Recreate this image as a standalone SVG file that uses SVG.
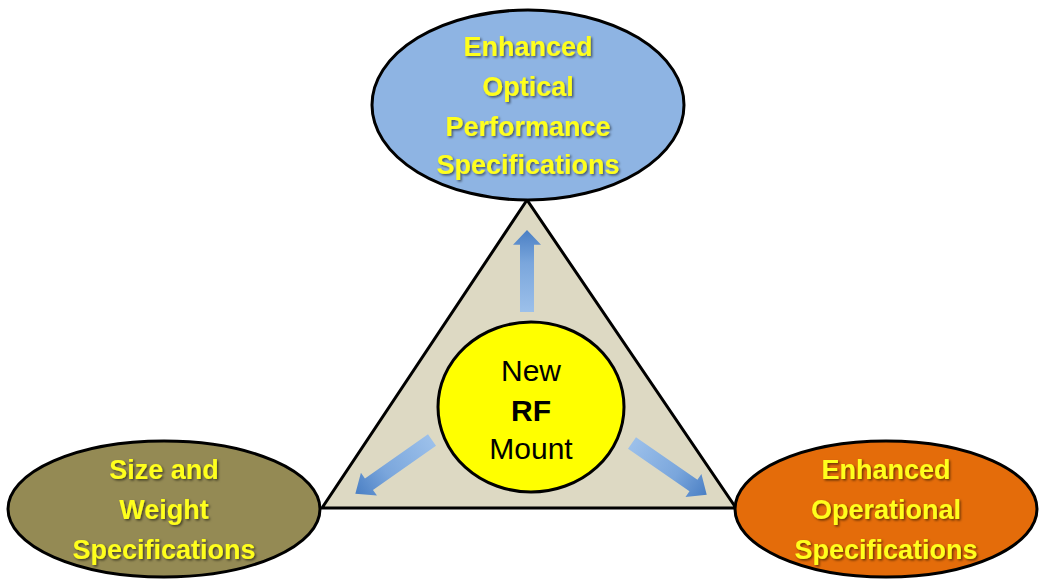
<svg xmlns="http://www.w3.org/2000/svg" width="1042" height="579" viewBox="0 0 1042 579">
  <defs>
    <filter id="tshadow" x="-10%" y="-30%" width="120%" height="160%">
      <feDropShadow dx="1.5" dy="1.5" stdDeviation="1" flood-color="#000" flood-opacity="0.55"/>
    </filter>
    <linearGradient id="arrowGrad" x1="0" y1="0" x2="1" y2="0">
      <stop offset="0" stop-color="#9cc0ea"/>
      <stop offset="0.6" stop-color="#7aa6dc"/>
      <stop offset="1" stop-color="#4a7fc4"/>
    </linearGradient>
    <path id="arrowShape" d="M0,-7 L74,-7 L74,-14 L90,0 L74,14 L74,7 L0,7 Z"/>
  </defs>
  <style>
    .shape { stroke: #000; stroke-width: 3; }
    .label { font-family: "Liberation Sans", Arial, sans-serif; font-weight: bold; font-size: 27px; fill: #ffff1e; text-anchor: middle; filter: url(#tshadow); }
    .center { font-family: "Liberation Sans", Arial, sans-serif; font-size: 30px; fill: #000; text-anchor: middle; }
    .arrow { fill: url(#arrowGrad); }
  </style>
  <rect width="1042" height="579" fill="#ffffff"/>

  <g id="triangle">
    <polygon class="shape" points="527,200 322,508 736,508" fill="#ddd9c3"/>
  </g>

  <g id="node-optical">
    <ellipse class="shape" cx="528" cy="105" rx="156" ry="95" fill="#8eb4e3"/>
    <text class="label" x="528" y="56">Enhanced</text>
    <text class="label" x="528" y="96">Optical</text>
    <text class="label" x="528" y="136">Performance</text>
    <text class="label" x="528" y="174">Specifications</text>
  </g>

  <g id="node-size">
    <ellipse class="shape" cx="164" cy="509" rx="156" ry="68" fill="#948a54"/>
    <text class="label" x="164" y="479">Size and</text>
    <text class="label" x="164" y="519">Weight</text>
    <text class="label" x="164" y="559">Specifications</text>
  </g>

  <g id="node-operational">
    <ellipse class="shape" cx="886" cy="509" rx="151" ry="68" fill="#e46c0a"/>
    <text class="label" x="886" y="479">Enhanced</text>
    <text class="label" x="886" y="519">Operational</text>
    <text class="label" x="886" y="559">Specifications</text>
  </g>

  <g id="node-center">
    <ellipse class="shape" cx="531" cy="407" rx="93" ry="85" fill="#ffff00"/>
    <text class="center" x="531" y="381">New</text>
    <text class="center" x="531" y="421" font-weight="bold">RF</text>
    <text class="center" x="531" y="459">Mount</text>
  </g>

  <g id="connectors">
    <use href="#arrowShape" class="arrow" transform="translate(527,312) rotate(-90) scale(0.91,1)"/>
    <use href="#arrowShape" class="arrow" transform="translate(432,440) rotate(145) scale(1.04,1)"/>
    <use href="#arrowShape" class="arrow" transform="translate(632,443) rotate(34.7) scale(1.01,1)"/>
  </g>
</svg>
